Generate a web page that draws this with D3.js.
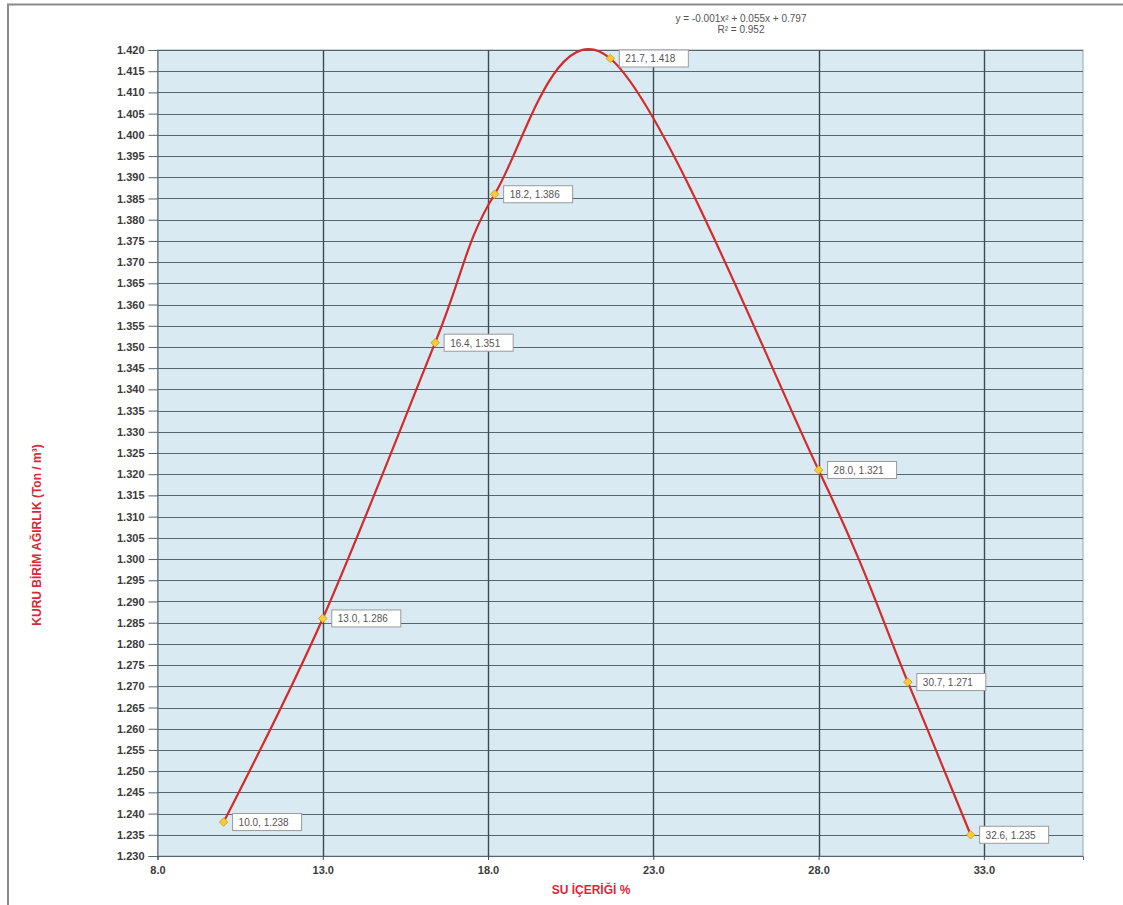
<!DOCTYPE html>
<html>
<head>
<meta charset="utf-8">
<script src="https://cdn.jsdelivr.net/npm/d3@7"></script>
<style>
  html, body { margin: 0; padding: 0; background: #ffffff; }
  svg { display: block; font-family: "Liberation Sans", Arial, sans-serif; }
</style>
</head>
<body>
<svg id="chart" width="1123" height="905"></svg>
<script>
// Compaction test: water content (%) vs dry unit weight (Ton / m³)
const waterContent = [10.0, 13.0, 16.4, 18.2, 21.7, 28.0, 30.7, 32.6];
const dryUnitWeight = [1.238, 1.286, 1.351, 1.386, 1.418, 1.321, 1.271, 1.235];
const xTicks = [8.0, 13.0, 18.0, 23.0, 28.0, 33.0];
const yTicks = d3.range(0, 39).map(i => +(1.230 + i * 0.005).toFixed(3));
const trendLines = ["y = -0.001x\u00B2  + 0.055x  + 0.797", "R\u00B2 = 0.952"];
const xTitle = "SU İÇERİĞİ %";
const yTitle = "KURU BİRİM AĞIRLIK (Ton / m\u00B3)";

const svg = d3.select("#chart");
const plot = { left: 157.5, right: 1083, top: 50, bottom: 856 };

const x = d3.scaleLinear().domain([8, 36]).range([plot.left, plot.right]);
const y = d3.scaleLinear().domain([1.230, 1.420]).range([plot.bottom, plot.top]);

// outer frame
svg.append("path")
  .attr("d", `M8,905 L8,4.5 L1123,4.5`)
  .attr("fill", "none").attr("stroke", "#8a8a8a").attr("stroke-width", 2);

// plot background
svg.append("rect")
  .attr("x", plot.left).attr("y", plot.top)
  .attr("width", plot.right - plot.left).attr("height", plot.bottom - plot.top)
  .attr("fill", "#d9eaf2").attr("stroke", "#9aa7ad").attr("stroke-width", 1);

// horizontal grid
svg.append("g").selectAll("line").data(yTicks.slice(1)).join("line")
  .attr("x1", plot.left).attr("x2", plot.right)
  .attr("y1", d => Math.round(y(d)) + 0.5).attr("y2", d => Math.round(y(d)) + 0.5)
  .attr("stroke", "#56666e").attr("stroke-width", 1.2);

// vertical grid
svg.append("g").selectAll("line").data(xTicks.slice(1)).join("line")
  .attr("y1", plot.top).attr("y2", plot.bottom)
  .attr("x1", d => Math.round(x(d)) + 0.5).attr("x2", d => Math.round(x(d)) + 0.5)
  .attr("stroke", "#3e4a50").attr("stroke-width", 1.4);

// y axis
const yAxis = d3.axisLeft(y).tickValues(yTicks).tickFormat(d3.format(".3f")).tickSize(9).tickPadding(4);
const gy = svg.append("g").attr("transform", `translate(${plot.left},0)`).call(yAxis);
gy.select(".domain").attr("stroke", "#56666e");
gy.selectAll(".tick line").attr("stroke", "#56666e");
gy.selectAll("text").attr("font-size", 11).attr("font-weight", "bold").attr("fill", "#3a3a3a");

// x axis
const xAxis = d3.axisBottom(x).tickValues(xTicks).tickFormat(d3.format(".1f")).tickSize(4).tickPadding(6);
const gx = svg.append("g").attr("transform", `translate(0,${plot.bottom})`).call(xAxis);
gx.select(".domain").attr("stroke", "#56666e");
gx.selectAll(".tick line").attr("stroke", "#3e4a50");
gx.selectAll("text").attr("font-size", 11).attr("font-weight", "bold").attr("fill", "#3a3a3a");

// smoothed curve through the measurements
const pts = waterContent.map((w, i) => [w, dryUnitWeight[i]]);
const line = d3.line().x(d => x(d[0])).y(d => y(d[1])).curve(d3.curveCardinal.tension(0));
svg.append("path").datum(pts)
  .attr("d", line).attr("fill", "none")
  .attr("stroke", "#d42a2a").attr("stroke-width", 2.2);

// diamond markers
svg.append("g").selectAll("path").data(pts).join("path")
  .attr("transform", d => `translate(${x(d[0])},${y(d[1])})`)
  .attr("d", d3.symbol(d3.symbolDiamond2, 46)())
  .attr("fill", "#f7cc3a").attr("stroke", "#d9a520").attr("stroke-width", 1);

// value labels
const labels = svg.append("g").selectAll("g").data(pts).join("g")
  .attr("transform", d => `translate(${x(d[0]) + 9},${y(d[1]) - 8.5})`);
labels.append("rect")
  .attr("width", 69).attr("height", 17)
  .attr("fill", "#ffffff").attr("stroke", "#9a9a9a").attr("stroke-width", 1);
labels.append("text")
  .attr("x", 6).attr("y", 12.5)
  .attr("font-size", 10).attr("fill", "#555")
  .text(d => `${d[0].toFixed(1)}, ${d[1].toFixed(3)}`);

// trend line equation
svg.append("g").selectAll("text").data(trendLines).join("text")
  .attr("x", 741).attr("y", (d, i) => 22 + i * 11)
  .attr("text-anchor", "middle").attr("font-size", 10).attr("fill", "#555")
  .text(d => d);

// axis titles
svg.append("text")
  .attr("x", 591).attr("y", 894)
  .attr("text-anchor", "middle").attr("font-size", 12).attr("font-weight", "bold")
  .attr("fill", "#d8283a").text(xTitle);

svg.append("text")
  .attr("transform", "translate(41,535) rotate(-90)")
  .attr("text-anchor", "middle").attr("font-size", 12).attr("font-weight", "bold")
  .attr("fill", "#d8283a").text(yTitle);
</script>
</body>
</html>
